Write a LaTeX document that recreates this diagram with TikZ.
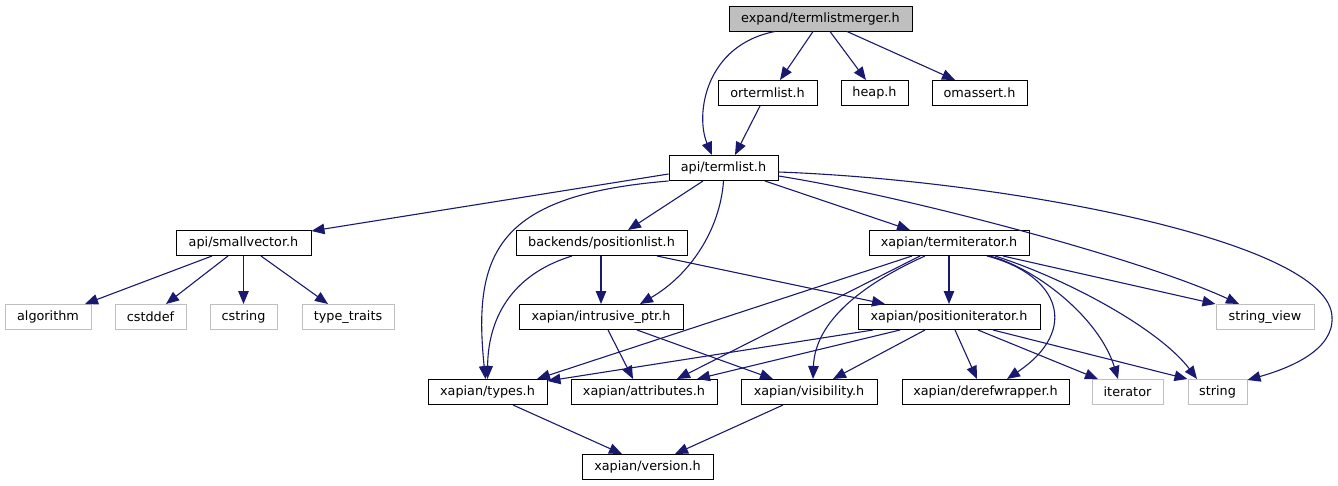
\documentclass[tikz,border=0pt]{standalone}
\usepackage{fontspec}
\setmainfont{DejaVu Sans}
\usetikzlibrary{arrows.meta}
\definecolor{edgec}{HTML}{191970}
\definecolor{graybox}{HTML}{BFBFBF}
\begin{document}
\begin{tikzpicture}[x=1pt,y=-1pt,
  box/.style={draw=black, line width=1pt, minimum height=25pt, inner sep=0pt, font=\fontsize{12.8}{15}\selectfont, text=black},
  sysbox/.style={box, draw=graybox},
  rootbox/.style={box, fill=graybox},
  edge/.style={draw=edgec, line width=1.1pt, -{Triangle[length=13pt,width=10.5pt]}}]
\useasboundingbox (0,0) rectangle (1338,485);
% row 1
\node[rootbox, minimum width=183pt] (tlm) at (820.5,18.5) {expand/termlistmerger.h};
% row 2
\node[box, minimum width=99pt] (ort) at (767.5,93) {ortermlist.h};
\node[box, minimum width=67pt] (heap) at (874.5,93) {heap.h};
\node[box, minimum width=95pt] (omassert) at (979.5,93) {omassert.h};
% row 3
\node[box, minimum width=109pt] (termlist) at (723.5,168) {api/termlist.h};
% row 4
\node[box, minimum width=135pt] (smallvec) at (243.5,243) {api/smallvector.h};
\node[box, minimum width=171pt] (poslist) at (601.5,243) {backends/positionlist.h};
\node[box, minimum width=160pt] (termit) at (949,243) {xapian/termiterator.h};
% row 5
\node[sysbox, minimum width=86pt] (algorithm) at (48,317) {algorithm};
\node[sysbox, minimum width=71pt] (cstddef) at (150.5,317) {cstddef};
\node[sysbox, minimum width=67pt] (cstring) at (243.5,317) {cstring};
\node[sysbox, minimum width=92pt] (typetraits) at (348,317) {type\_traits};
\node[box, minimum width=164pt] (intrusive) at (601,317) {xapian/intrusive\_ptr.h};
\node[box, minimum width=182pt] (positer) at (949,317) {xapian/positioniterator.h};
\node[sysbox, minimum width=98pt] (stringview) at (1265,317) {string\_view};
% row 6
\node[box, minimum width=119pt] (types) at (487.5,392) {xapian/types.h};
\node[box, minimum width=146pt] (attributes) at (644,392) {xapian/attributes.h};
\node[box, minimum width=136pt] (visibility) at (809,392) {xapian/visibility.h};
\node[box, minimum width=167pt] (deref) at (985.5,392) {xapian/derefwrapper.h};
\node[sysbox, minimum width=71pt] (iterator) at (1127.5,392) {iterator};
\node[sysbox, minimum width=59pt] (string) at (1217.5,392) {string};
% row 7
\node[box, minimum width=131pt] (version) at (647.5,467) {xapian/version.h};

% edges from termlistmerger
\draw[edge] ([xshift=-45.5pt]tlm.south) .. controls (705,45) and (695,115) .. ([xshift=-11.5pt]termlist.north);
\draw[edge] ([xshift=-7.5pt]tlm.south) -- ([xshift=12.5pt]ort.north);
\draw[edge] ([xshift=9.5pt]tlm.south) -- ([xshift=-8.5pt]heap.north);
\draw[edge] ([xshift=26.5pt]tlm.south) -- ([xshift=-24.5pt]omassert.north);
\draw[edge] ([xshift=-7.5pt]ort.south) -- ([xshift=11.5pt]termlist.north);

% edges from termlist
\draw[edge] ([yshift=-6pt]termlist.west) -- ([yshift=12pt]smallvec.east);
\draw[edge] (termlist.south west) .. controls (500,195) and (472,250) .. ([xshift=-2pt]types.north);
\draw[edge] ([xshift=-20.5pt]termlist.south) -- ([xshift=26.5pt]poslist.north);
\draw[edge] (termlist.south) .. controls (720,230) and (690,275) .. ([xshift=39pt]intrusive.north);
\draw[edge] ([xshift=41.5pt]termlist.south) -- ([xshift=-39pt]termit.north);
\draw[edge] ([yshift=-8pt]termlist.east) .. controls (900,195) and (1140,258) .. ([xshift=-26pt]stringview.north);
\draw[edge] ([yshift=-4pt]termlist.east) .. controls (1000,180) and (1330,240) .. (1332,317) .. controls (1334,350) and (1290,368) .. ([yshift=-1pt]string.north east);

% edges from smallvector
\draw[edge] ([xshift=-31.5pt]smallvec.south) -- ([xshift=37pt]algorithm.north);
\draw[edge] ([xshift=-15.5pt]smallvec.south) -- ([xshift=15.5pt]cstddef.north);
\draw[edge] (smallvec.south) -- (cstring.north);
\draw[edge] ([xshift=17.5pt]smallvec.south) -- ([xshift=-20pt]typetraits.north);

% edges from positionlist
\draw[edge] ([xshift=-0.5pt]poslist.south) -- (intrusive.north);
\draw[edge] ([xshift=-29.5pt]poslist.south) .. controls (510,275) and (488,320) .. (types.north);
\draw[edge] ([xshift=55.5pt]poslist.south) -- ([xshift=-64pt]positer.north);

% edges from termiterator
\draw[edge] (termit.south) -- (positer.north);
\draw[edge] ([xshift=-37pt]termit.south) -- ([xshift=49.5pt]types.north);
\draw[edge] ([xshift=-29pt]termit.south) -- ([xshift=33pt]attributes.north);
\draw[edge] ([xshift=-24pt]termit.south) .. controls (865,283) and (815,320) .. ([xshift=4pt]visibility.north);
\draw[edge] ([xshift=38pt]termit.south) .. controls (1060,275) and (1080,330) .. ([xshift=21.5pt]deref.north);
\draw[edge] ([xshift=41pt]termit.south) .. controls (1040,270) and (1100,320) .. ([xshift=-9.5pt]iterator.north);
\draw[edge] ([xshift=46pt]termit.south) .. controls (1070,280) and (1160,330) .. ([xshift=-20.5pt]string.north);
\draw[edge] ([xshift=54pt]termit.south) -- (stringview.north west);

% edges from intrusive_ptr
\draw[edge] ([xshift=7pt]intrusive.south) -- ([xshift=-11pt]attributes.north);
\draw[edge] ([xshift=36pt]intrusive.south) -- ([xshift=-36pt]visibility.north);

% edges from positioniterator
\draw[edge] ([xshift=-76pt]positer.south) -- ([yshift=-2pt]types.north east);
\draw[edge] ([xshift=-49pt]positer.south) -- ([xshift=53pt]attributes.north);
\draw[edge] ([xshift=-24pt]positer.south) -- ([xshift=24pt]visibility.north);
\draw[edge] ([xshift=6pt]positer.south) -- ([xshift=-8.5pt]deref.north);
\draw[edge] ([xshift=29pt]positer.south) -- ([xshift=-29.5pt]iterator.north);
\draw[edge] ([xshift=44pt]positer.south) -- (string.north west);

% edges to version
\draw[edge] ([xshift=25.5pt]types.south) -- ([xshift=-25.5pt]version.north);
\draw[edge] ([xshift=-26pt]visibility.south) -- ([xshift=27.5pt]version.north);
\end{tikzpicture}
\end{document}
